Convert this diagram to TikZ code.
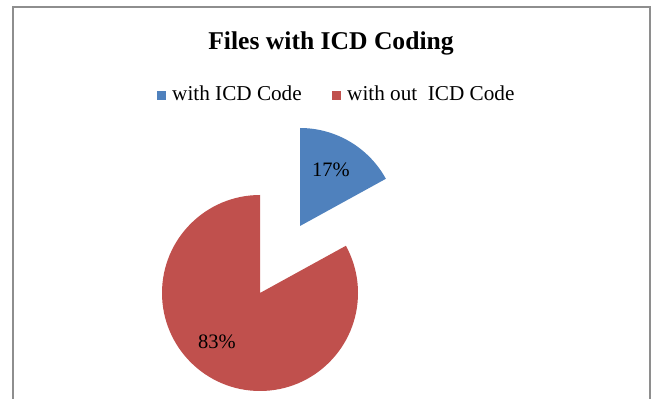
\documentclass[tikz,border=0pt]{standalone}
\usepackage{fontspec}
\setmainfont{Liberation Serif}
\definecolor{sliceblue}{HTML}{4F81BD}
\definecolor{slicered}{HTML}{C0504D}
\definecolor{framegray}{HTML}{8E8E8E}
\begin{document}
\begin{tikzpicture}[x=1pt,y=1pt,
  charttitle/.style={font=\fontsize{25.6}{30}\selectfont\bfseries, inner sep=0pt, anchor=base},
  legendtext/.style={font=\fontsize{21.2}{25}\selectfont, inner sep=0pt, anchor=base west},
  legendkey/.style={minimum size=9pt, inner sep=0pt, anchor=center},
  pctlabel/.style={font=\fontsize{20.5}{24}\selectfont, inner sep=0pt, anchor=base},
  slice/.style={draw=none}]
  \useasboundingbox (0,0) rectangle (654,399);
  \clip (0,0) rectangle (654,399);
  % chart area frame (runs off the bottom edge)
  \draw[framegray, line width=1.6pt] (13,-20) -- (13,392) -- (650,392) -- (650,-20);
  % title
  \node[charttitle] (title) at (331,349) {Files with ICD Coding};
  % legend
  \node[legendkey, fill=sliceblue] (keyA) at (161,303) {};
  \node[legendtext] (legA) at (172,298) {with ICD Code};
  \node[legendkey, fill=slicered] (keyB) at (336,303) {};
  \node[legendtext] (legB) at (347,298) {with out\ \ ICD Code};
  % pie: large slice (83%)
  \coordinate (redc) at (260,106);
  \fill[slicered] (redc) -- ++(90:98) arc[start angle=90, end angle=388.8, radius=98] -- cycle;
  % pie: exploded slice (17%)
  \coordinate (bluec) at (300,173);
  \fill[sliceblue] (bluec) -- ++(28.8:98) arc[start angle=28.8, end angle=90, radius=98] -- cycle;
  % slice labels
  \node[pctlabel] (pctA) at (331,222) {17\%};
  \node[pctlabel] (pctB) at (217,50) {83\%};
\end{tikzpicture}
\end{document}
